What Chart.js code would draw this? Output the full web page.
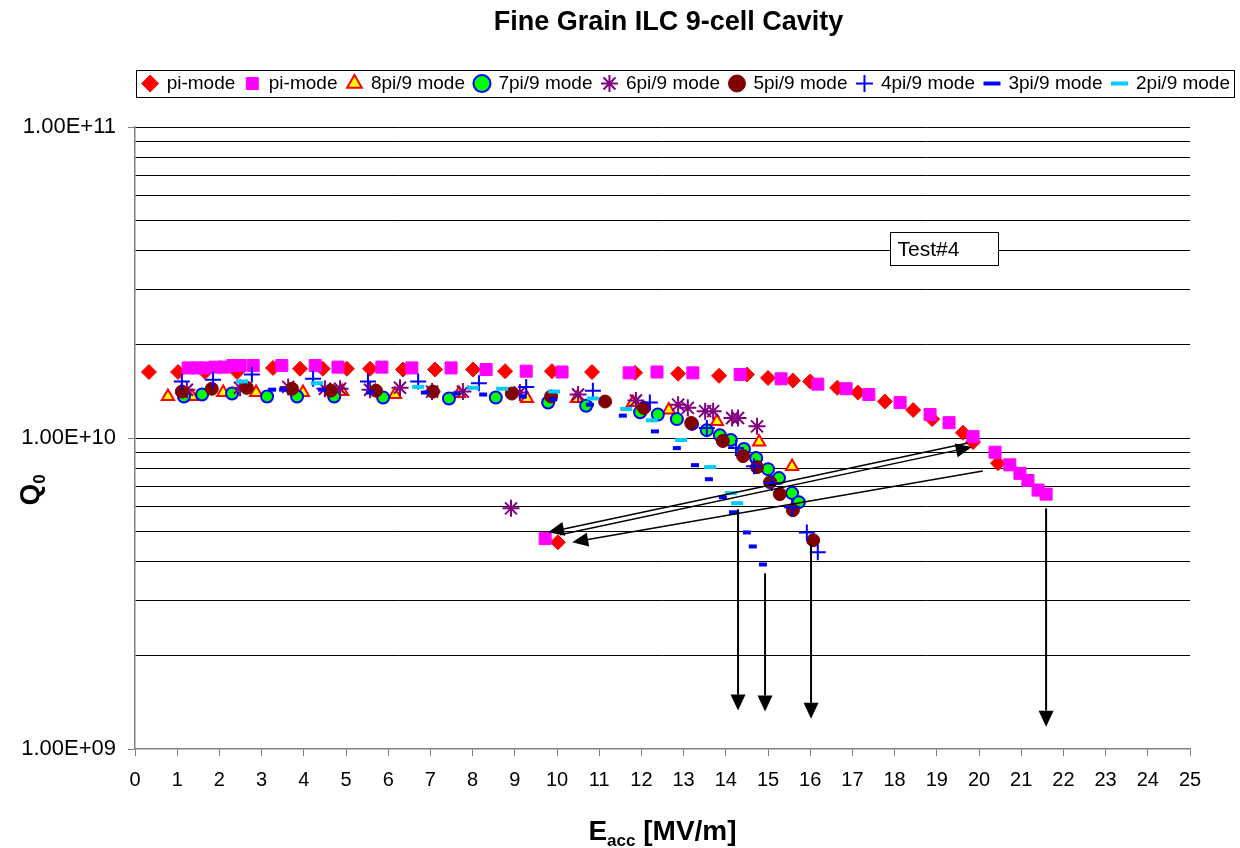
<!DOCTYPE html>
<html><head><meta charset="utf-8">
<script src="https://cdn.jsdelivr.net/npm/chart.js@4.4.1/dist/chart.umd.min.js"></script>
<style>html,body{margin:0;padding:0;background:#fff}</style>
</head><body>
<canvas id="c" width="1240" height="848"></canvas>
<script>
// ---------------- DATA ----------------
const seriesNames = ['pi-mode','pi-mode','8pi/9 mode','7pi/9 mode','6pi/9 mode','5pi/9 mode','4pi/9 mode','3pi/9 mode','2pi/9 mode'];

const piA_E = [0.33,1.02,1.66,2.42,3.27,3.91,4.45,5.02,5.57,6.35,7.11,8.01,8.77,9.88,10.83,11.85,12.87,13.84,14.50,15.00,15.59,16.00,16.64,17.13,17.77,18.44,18.89,19.62,19.86,20.45,10.02];
const piA_Q = [1.63e10,1.63e10,1.63e10,1.63e10,1.68e10,1.67e10,1.67e10,1.67e10,1.67e10,1.66e10,1.66e10,1.66e10,1.64e10,1.64e10,1.63e10,1.62e10,1.61e10,1.585e10,1.60e10,1.56e10,1.53e10,1.52e10,1.45e10,1.40e10,1.31e10,1.23e10,1.15e10,1.04e10,0.97e10,0.83e10,0.462e10];

const piB_E = [1.26,1.47,1.66,1.90,2.11,2.32,2.49,2.80,3.48,4.27,4.81,5.85,6.56,7.49,8.32,9.27,10.12,11.71,12.37,13.22,14.34,15.31,16.18,16.85,17.39,18.13,18.84,19.29,19.86,20.38,20.73,20.97,21.16,21.40,21.59,9.72];
const piB_Q = [1.68e10,1.68e10,1.68e10,1.69e10,1.69e10,1.71e10,1.71e10,1.71e10,1.71e10,1.71e10,1.69e10,1.69e10,1.68e10,1.68e10,1.66e10,1.64e10,1.63e10,1.62e10,1.63e10,1.62e10,1.60e10,1.55e10,1.49e10,1.44e10,1.38e10,1.30e10,1.19e10,1.12e10,1.01e10,0.90e10,0.82e10,0.77e10,0.73e10,0.68e10,0.66e10,0.475e10];

const m8_E = [0.78,1.35,2.09,2.87,3.98,4.91,6.16,7.68,9.29,10.47,11.80,12.65,13.79,14.79,15.57];
const m8_Q = [1.36e10,1.36e10,1.40e10,1.40e10,1.40e10,1.41e10,1.38e10,1.39e10,1.34e10,1.34e10,1.30e10,1.23e10,1.13e10,0.97e10,0.81e10];

const m7_E = [1.16,1.59,2.30,3.13,3.84,4.72,5.88,7.44,8.55,9.79,10.69,11.97,12.39,12.84,13.20,13.55,13.86,14.12,14.43,14.72,15.00,15.26,15.57,15.73];
const m7_Q = [1.36e10,1.38e10,1.39e10,1.36e10,1.36e10,1.36e10,1.35e10,1.34e10,1.35e10,1.30e10,1.27e10,1.21e10,1.19e10,1.15e10,1.11e10,1.06e10,1.02e10,0.985e10,0.922e10,0.862e10,0.794e10,0.743e10,0.665e10,0.622e10];

const m6_E = [1.23,2.49,3.63,4.50,4.86,5.57,6.28,7.04,7.77,9.12,10.50,11.87,12.87,13.10,13.51,13.70,14.15,14.29,14.74,8.91];
const m6_Q = [1.43e10,1.45e10,1.46e10,1.44e10,1.44e10,1.43e10,1.45e10,1.41e10,1.41e10,1.40e10,1.38e10,1.32e10,1.28e10,1.25e10,1.22e10,1.22e10,1.16e10,1.16e10,1.09e10,0.594e10];

const m5_E = [1.11,1.82,2.65,3.72,4.64,5.71,7.06,8.93,9.86,11.14,12.06,13.18,13.93,14.41,14.74,15.05,15.28,15.59,16.07];
const m5_Q = [1.41e10,1.44e10,1.45e10,1.44e10,1.42e10,1.42e10,1.41e10,1.39e10,1.36e10,1.31e10,1.25e10,1.118e10,0.978e10,0.875e10,0.806e10,0.721e10,0.660e10,0.586e10,0.469e10];

const m4_E = [1.11,1.85,2.77,4.22,5.52,6.71,8.15,9.27,10.85,12.20,13.55,14.24,14.67,15.09,15.57,15.92,16.18];
const m4_Q = [1.52e10,1.54e10,1.60e10,1.55e10,1.52e10,1.52e10,1.50e10,1.46e10,1.42e10,1.30e10,1.077e10,0.928e10,0.812e10,0.716e10,0.599e10,0.497e10,0.429e10];

const m3_E = [3.25,3.51,4.43,5.57,6.87,7.61,8.25,9.19,9.91,10.78,11.56,12.32,12.84,13.27,13.60,13.93,14.17,14.50,14.64,14.88];
const m3_Q = [1.43e10,1.43e10,1.43e10,1.40e10,1.40e10,1.39e10,1.38e10,1.36e10,1.33e10,1.28e10,1.18e10,1.05e10,0.928e10,0.818e10,0.737e10,0.645e10,0.577e10,0.497e10,0.448e10,0.392e10];

const m2_E = [2.54,4.31,6.71,8.01,8.70,9.93,10.85,11.64,12.25,12.94,13.63,14.12,14.27];
const m2_Q = [1.52e10,1.50e10,1.46e10,1.45e10,1.44e10,1.41e10,1.34e10,1.24e10,1.14e10,0.985e10,0.806e10,0.665e10,0.617e10];

const xMin = 0, xMax = 25;
const yTickValues = [1e9,2e9,3e9,4e9,5e9,6e9,7e9,8e9,9e9,1e10,2e10,3e10,4e10,5e10,6e10,7e10,8e10,9e10,1e11];
const yMajorValues = [1e9, 1e10, 1e11];
const yTickLabels = ['1.00E+09','1.00E+10','1.00E+11'];

const titleText = 'Fine Grain ILC 9-cell Cavity';
const boxText = 'Test#4';

// annotation shapes, given in data coordinates [E, Q]
const diagArrows = [
  {from:[19.74,0.964e10], to:[9.79,0.4975e10]},
  {from:[10.07,0.4885e10], to:[19.83,0.935e10]},
  {from:[20.09,0.783e10], to:[10.36,0.462e10]}
];
const downArrows = [
  {from:[14.29,0.590e10], to:[14.29,1.33e9]},
  {from:[14.93,0.367e10], to:[14.93,1.32e9]},
  {from:[16.02,0.458e10], to:[16.02,1.25e9]},
  {from:[21.59,0.594e10], to:[21.59,1.18e9]}
];
const testBox = {e1:17.89, e2:20.45, q1:4.59e10, q2:3.61e10};

// ---------------- CHART ----------------
const FONT = "'Liberation Sans', Arial, Helvetica, sans-serif";
const pts = (E, Q) => E.map((e, i) => ({x: e, y: Q[i]}));

const styles = [
  {pointStyle:'rectRot', pointRadius:7.5, backgroundColor:'#FF0000', borderColor:'#FF0000', borderWidth:1},
  {pointStyle:'rect', pointRadius:8.5, backgroundColor:'#FF00FF', borderColor:'#FF00FF', borderWidth:1},
  {pointStyle:'triangle', pointRadius:7, backgroundColor:'#FFFF00', borderColor:'#FF0000', borderWidth:2},
  {pointStyle:'circle', pointRadius:6, backgroundColor:'#00FF00', borderColor:'#0000FF', borderWidth:2},
  {pointStyle:'star', pointRadius:8.5, backgroundColor:'#800080', borderColor:'#800080', borderWidth:2},
  {pointStyle:'circle', pointRadius:6.5, backgroundColor:'#800000', borderColor:'#800000', borderWidth:1},
  {pointStyle:'cross', pointRadius:8, backgroundColor:'#0000FF', borderColor:'#0000FF', borderWidth:2},
  {pointStyle:'line', pointRadius:4, backgroundColor:'#0000FF', borderColor:'#0000FF', borderWidth:4},
  {pointStyle:'line', pointRadius:6, backgroundColor:'#00CCFF', borderColor:'#00CCFF', borderWidth:4}
];
const series = [[piA_E,piA_Q],[piB_E,piB_Q],[m8_E,m8_Q],[m7_E,m7_Q],[m6_E,m6_Q],[m5_E,m5_Q],[m4_E,m4_Q],[m3_E,m3_Q],[m2_E,m2_Q]];

const datasets = series.map((s, i) => Object.assign({
  label: seriesNames[i],
  data: pts(s[0], s[1]),
  showLine: false,
  order: series.length - i,
  pointHoverRadius: styles[i].pointRadius,
  pointBorderWidth: styles[i].borderWidth
}, styles[i]));

function drawArrow(ctx, x1, y1, x2, y2, L, W, lw) {
  const a = Math.atan2(y2 - y1, x2 - x1);
  const bx = x2 - L * Math.cos(a), by = y2 - L * Math.sin(a);
  ctx.beginPath(); ctx.moveTo(x1, y1); ctx.lineTo(bx, by);
  ctx.lineWidth = lw; ctx.strokeStyle = '#000'; ctx.stroke();
  ctx.beginPath(); ctx.moveTo(x2, y2);
  ctx.lineTo(bx + W * Math.sin(a), by - W * Math.cos(a));
  ctx.lineTo(bx - W * Math.sin(a), by + W * Math.cos(a));
  ctx.closePath(); ctx.fillStyle = '#000'; ctx.fill();
}

const LEGEND_EXTRA = 24;
const decor = {
  id: 'decor',
  beforeInit(chart) {
    const leg = chart.legend;
    if (leg) {
      const fit = leg.fit;
      leg.fit = function () { fit.call(this); this.height += LEGEND_EXTRA; };
    }
  },
  afterDatasetsDraw(chart) {
    const ctx = chart.ctx, xs = chart.scales.x, ys = chart.scales.y;
    ctx.save();
    diagArrows.forEach(d => {
      const x1 = xs.getPixelForValue(d.from[0]), y1 = ys.getPixelForValue(d.from[1]);
      const x2 = xs.getPixelForValue(d.to[0]), y2 = ys.getPixelForValue(d.to[1]);
      drawArrow(ctx, x1, y1, x2, y2, 16, 7, 1.4);
    });
    downArrows.forEach(d => {
      const x1 = xs.getPixelForValue(d.from[0]), y1 = ys.getPixelForValue(d.from[1]);
      const x2 = xs.getPixelForValue(d.to[0]), y2 = ys.getPixelForValue(d.to[1]);
      drawArrow(ctx, x1, y1, x2, y2, 16, 7.5, 2);
    });
    const bx1 = Math.round(xs.getPixelForValue(testBox.e1)) + 0.5, bx2 = Math.round(xs.getPixelForValue(testBox.e2)) + 0.5;
    const by1 = Math.round(ys.getPixelForValue(testBox.q1)) + 0.5, by2 = Math.round(ys.getPixelForValue(testBox.q2)) + 0.5;
    ctx.fillStyle = '#fff'; ctx.fillRect(bx1, by1, bx2 - bx1, by2 - by1);
    ctx.lineWidth = 1; ctx.strokeStyle = '#000'; ctx.strokeRect(bx1, by1, bx2 - bx1, by2 - by1);
    ctx.fillStyle = '#000'; ctx.font = `21px ${FONT}`; ctx.textAlign = 'left'; ctx.textBaseline = 'middle';
    ctx.fillText(boxText, bx1 + 7, (by1 + by2) / 2 + 1);
    ctx.restore();
  },
  afterDraw(chart) {
    const ctx = chart.ctx, ca = chart.chartArea;
    ctx.save();
    ctx.fillStyle = '#000'; ctx.font = `bold 27px ${FONT}`; ctx.textAlign = 'center'; ctx.textBaseline = 'middle';
    ctx.fillText(titleText, (ca.left + ca.right) / 2 + 6, 23);
    ctx.textAlign = 'left'; ctx.textBaseline = 'alphabetic';
    const big = `bold 28px ${FONT}`, small = `bold 17px ${FONT}`;
    ctx.font = big; const wE = ctx.measureText('E').width, wR = ctx.measureText(' [MV/m]').width;
    ctx.font = small; const wS = ctx.measureText('acc').width;
    let x0 = (ca.left + ca.right) / 2 - (wE + wS + wR) / 2;
    const yb = 840;
    ctx.font = big; ctx.fillText('E', x0, yb);
    ctx.font = small; ctx.fillText('acc', x0 + wE, yb + 6);
    ctx.font = big; ctx.fillText(' [MV/m]', x0 + wE + wS, yb);
    ctx.translate(39, (ca.top + ca.bottom) / 2 + 52);
    ctx.rotate(-Math.PI / 2);
    ctx.font = big; const wQ = ctx.measureText('Q').width;
    ctx.font = small; const w0 = ctx.measureText('0').width;
    ctx.font = big; ctx.fillText('Q', -(wQ + w0) / 2, 0);
    ctx.font = small; ctx.fillText('0', -(wQ + w0) / 2 + wQ, 6);
    ctx.setTransform(1, 0, 0, 1, 0, 0);
    const hb = chart.legend && chart.legend.legendHitBoxes;
    if (hb && hb.length) {
      const l = Math.round(hb[0].left - 7) + 0.5;
      const last = hb[hb.length - 1];
      const r = Math.min(1239.5, Math.round(last.left + last.width + 4) + 0.5);
      const t = Math.round(hb[0].top - 4) + 0.5, b = Math.round(hb[0].top + hb[0].height + 4) + 0.5;
      ctx.strokeStyle = '#000'; ctx.lineWidth = 1; ctx.strokeRect(l, t, r - l, b - t);
    }
    ctx.restore();
  }
};

new Chart(document.getElementById('c'), {
  type: 'scatter',
  data: { datasets },
  plugins: [decor],
  options: {
    responsive: false,
    animation: false,
    devicePixelRatio: 1,
    layout: { padding: { top: 64, left: 0, right: 0, bottom: 0 } },
    plugins: {
      title: { display: false },
      tooltip: { enabled: false },
      legend: {
        display: true,
        position: 'top',
        align: 'end',
        labels: {
          usePointStyle: true,
          boxWidth: 14,
          boxHeight: 12,
          padding: 10,
          color: '#000',
          font: { family: FONT, size: 19 },
          sort: (a, b) => a.datasetIndex - b.datasetIndex
        }
      }
    },
    scales: {
      x: {
        type: 'linear',
        min: xMin, max: xMax,
        afterFit: (s) => { s.height = 99; },
        ticks: { stepSize: 1, autoSkip: false, maxRotation: 0, color: '#000', padding: 12, font: { family: FONT, size: 20 } },
        grid: { display: true, drawOnChartArea: false, drawTicks: true, tickLength: 7, color: '#808080', tickColor: '#808080' },
        border: { display: true, color: '#808080', width: 1.5 }
      },
      y: {
        type: 'logarithmic',
        position: 'left',
        min: yMajorValues[0], max: yMajorValues[yMajorValues.length - 1],
        afterFit: (s) => { s.width = 135; },
        afterBuildTicks: (s) => { s.ticks = yTickValues.map(v => ({ value: v })); },
        ticks: {
          autoSkip: false, color: '#000', padding: 12,
          font: { family: FONT, size: 22 },
          callback: (v) => { const k = yMajorValues.indexOf(v); return k >= 0 ? yTickLabels[k] : ''; }
        },
        grid: {
          display: true, drawOnChartArea: true, drawTicks: true, tickLength: 7, lineWidth: 1,
          color: (c) => (c.tick && c.tick.value === yMajorValues[0]) ? 'rgba(0,0,0,0)' : '#000',
          tickColor: (c) => (c.tick && yMajorValues.indexOf(c.tick.value) >= 0) ? '#808080' : 'rgba(0,0,0,0)'
        },
        border: { display: true, color: '#808080', width: 1.5 }
      },
      yRight: {
        type: 'linear',
        position: 'right',
        display: true,
        afterFit: (s) => { s.width = 50; },
        ticks: { display: false },
        grid: { display: false, drawTicks: false },
        border: { display: false }
      }
    }
  }
});
</script>
</body></html>
